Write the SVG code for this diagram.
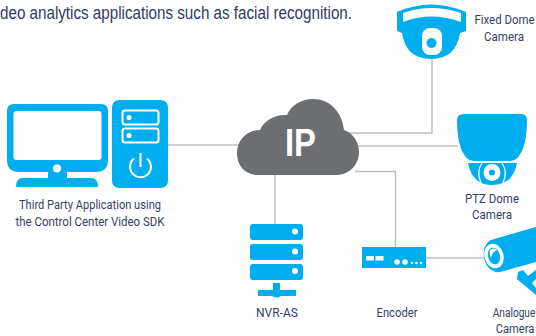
<svg xmlns="http://www.w3.org/2000/svg" width="536" height="336" viewBox="0 0 536 336">
<style>
.b{fill:#00aeef}
.w{fill:#fff}
.l{fill:none;stroke:#bcbec0;stroke-width:1.4}
.t{font-family:"Roboto","Liberation Sans",sans-serif;font-size:13px;fill:#353f66;text-anchor:middle}
.i{fill:none;stroke:#fff;stroke-width:2}
</style>
<rect width="536" height="336" fill="#fff"/>
<text x="0" y="19" textLength="352" lengthAdjust="spacingAndGlyphs" style="font-family:'Liberation Sans',sans-serif;font-size:17.500px;fill:#2f3a6a">deo analytics applications such as facial recognition.</text>
<g id="connectors" class="l">
<path d="M168 145H245"/>
<path d="M345 133H432V59"/>
<path d="M355 146H458"/>
<path d="M355 171.500H395.500V247"/>
<path d="M275 170V224"/>
<path d="M426 258H486"/>
</g>
<g id="third-party-app">
<path class="b" d="M14 104H101Q108 104 108 111V160Q108 172 96 172H67V178H91Q98 178 98 187H16Q16 178 23 178H48V172H19Q7 172 7 160V111Q7 104 14 104Z"/>
<rect class="w" x="13.500" y="111" width="88" height="49" rx="3"/>
<circle class="w" cx="57" cy="168.500" r="4"/>
<rect class="b" x="112" y="100" width="56" height="88" rx="7"/>
<rect class="i" x="122.500" y="110.500" width="36" height="14" rx="2.500"/>
<rect class="i" x="122.500" y="128.500" width="36" height="14" rx="2.500"/>
<circle class="w" cx="129" cy="117.500" r="2.500"/>
<circle class="w" cx="129" cy="135.500" r="2.500"/>
<path class="i" d="M134 158.500A10.500 10.500 0 1 0 147 158.500M140.500 153V167"/>
<text class="t" x="90" y="209" textLength="142" lengthAdjust="spacingAndGlyphs">Third Party Application using</text>
<text class="t" x="90" y="226" textLength="149" lengthAdjust="spacingAndGlyphs">the Control Center Video SDK</text>
</g>
<g id="ip-cloud">
<path fill="#6d6e71" d="M258 175C245 175 237 166 237 153C237 140 247 130 260 130C263 122 274 114 287 115C291 105 302 99 313 99C330 99 342 112 344 130C353 133 359 142 359 152C359 165 349 175 336 175Z"/>
<text x="300.500" y="155.500" textLength="31" lengthAdjust="spacingAndGlyphs" style="font-family:'Liberation Sans',sans-serif;font-size:38px;font-weight:700;fill:#fff;text-anchor:middle">IP</text>
</g>
<g id="nvr-as">
<rect class="b" x="250" y="224" width="53" height="16" rx="3"/>
<rect class="b" x="250" y="244" width="53" height="16" rx="3"/>
<rect class="b" x="250" y="264" width="53" height="16" rx="3"/>
<circle class="w" cx="295" cy="231.500" r="3"/>
<circle class="w" cx="295" cy="251.500" r="3"/>
<circle class="w" cx="295" cy="271" r="3"/>
<path class="b" d="M273 283H280V290H296V296H281Q277 299 272 296H258V290H273Z"/>
<text class="t" x="277" y="317" textLength="42" lengthAdjust="spacingAndGlyphs">NVR-AS</text>
</g>
<g id="encoder">
<rect class="b" x="362" y="247" width="64" height="21"/>
<rect class="w" x="366" y="256" width="8" height="4.500"/>
<rect class="w" x="375.500" y="256" width="8" height="4.500"/>
<circle class="w" cx="397" cy="262" r="2.800"/>
<circle class="w" cx="405" cy="262" r="2.800"/>
<circle class="w" cx="412" cy="263" r="1.300"/>
<circle class="w" cx="416.500" cy="263" r="1.300"/>
<circle class="w" cx="421" cy="263" r="1.300"/>
<text class="t" x="397" y="317" textLength="41" lengthAdjust="spacingAndGlyphs">Encoder</text>
</g>
<g id="fixed-dome">
<path class="b" d="M397 12Q431 -3 466 12V31L460 33Q456 59 431 59Q406 59 402 33L397 31Z"/>
<path class="w" d="M403 13Q431 3 461 13V22Q431 11 403 22Z"/>
<rect class="w" x="422" y="28" width="20" height="27" rx="8"/>
<circle class="b" cx="431.500" cy="43" r="5"/>
<text class="t" transform="translate(504.500 24) scale(.88 1)">Fixed Dome</text>
<text class="t" x="504" y="41" textLength="40" lengthAdjust="spacingAndGlyphs">Camera</text>
</g>
<g id="ptz-dome">
<path class="b" d="M464 114H521Q527 114 527 120Q527 145 519 156Q516 161 508 161H476Q468 161 465 156Q457 145 457 120Q457 114 464 114Z"/>
<path class="b" d="M468 163H517Q513 185 492 185Q472 185 468 163Z"/>
<path fill="none" stroke="#fff" stroke-width="1.200" d="M482 163Q476 172 481 183M502 163Q508 172 503 183"/>
<circle class="w" cx="492" cy="172.500" r="8.500"/>
<circle class="b" cx="492" cy="172.500" r="3"/>
<text class="t" x="492" y="203" textLength="54" lengthAdjust="spacingAndGlyphs">PTZ Dome</text>
<text class="t" x="492" y="219" textLength="40" lengthAdjust="spacingAndGlyphs">Camera</text>
</g>
<g id="analogue-camera">
<path class="b" d="M536 227L491 240C485 243 483 250 484 258C486 268 493 273 500 272L536 262Z"/>
<ellipse class="w" cx="494" cy="256" rx="9.500" ry="12.500" transform="rotate(-15 494 256)"/>
<ellipse class="b" cx="494" cy="256" rx="6" ry="8.500" transform="rotate(-15 494 256)"/>
<path class="w" d="M490 250Q494 247 497 250Q492 252 491 258Q489 254 490 250Z"/>
<path class="b" d="M518 272L523 270L528 276L536 270V279L532 283L536 288V295L517 279Z"/>
<text class="t" transform="translate(514 317) scale(.78 1)">Analogue</text>
<text class="t" transform="translate(515 333) scale(.86 1)">Camera</text>
</g>
</svg>
